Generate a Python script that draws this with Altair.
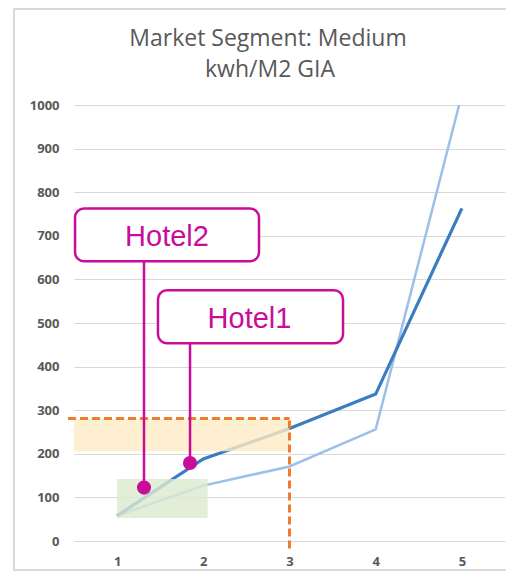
import altair as alt
import pandas as pd

# ---- data ----
categories = [1, 2, 3, 4, 5]
series_dark = [58, 188, 258, 337, 763]
series_light = [58, 127, 171, 256, 1025]

# shaded ranges
orange_x = [0.5, 3.0]
orange_y = [206, 281]
green_x = [1.0, 2.05]
green_y = [53, 142]

# dashed reference lines
ref_h_x = [0.43, 3.0]
ref_h_y = 281
ref_v_x = 3.0
ref_v_y = [-17, 281]

# callouts
callout_names = ["Hotel2", "Hotel1"]
callout_box_x0 = [0.512, 1.474]
callout_box_x1 = [2.646, 3.621]
callout_box_y0 = [641.5, 453.4]
callout_box_y1 = [762.6, 575.0]
callout_text_x = [1.579, 2.536]
callout_text_y = [676, 488]
callout_dot_x = [1.312, 1.846]
callout_dot_y = [122.5, 179.0]

title_lines = ["Market Segment: Medium", "kwh/M2 GIA"]

y_ticks = list(range(0, 1001, 100))

DARK = "#3C7DC0"
LIGHT = "#9DC0E8"
MAGENTA = "#C90C9A"
ORANGE = "#ED7D31"
GRAY = "#595959"

lines_df = pd.DataFrame({
    "x": categories * 2,
    "y": series_light + series_dark,
    "s": ["light"] * 5 + ["dark"] * 5,
})
rects_df = pd.DataFrame({
    "x0": [orange_x[0], green_x[0]], "x1": [orange_x[1], green_x[1]],
    "y0": [orange_y[0], green_y[0]], "y1": [orange_y[1], green_y[1]],
    "c": ["orange", "green"],
})
href_df = pd.DataFrame({"x0": [ref_h_x[0]], "x1": [ref_h_x[1]], "y": [ref_h_y]})
vref_df = pd.DataFrame({"x": [ref_v_x], "y0": [ref_v_y[0]], "y1": [ref_v_y[1]]})
call_df = pd.DataFrame({
    "name": callout_names,
    "bx0": callout_box_x0, "bx1": callout_box_x1,
    "by0": callout_box_y0, "by1": callout_box_y1,
    "tx": callout_text_x, "ty": callout_text_y,
    "dx": callout_dot_x, "dy": callout_dot_y,
})
title1_df = pd.DataFrame({"t": [title_lines[0]]})
title2_df = pd.DataFrame({"t": [title_lines[1]]})

xscale = alt.Scale(domain=[0.5, 5.5], nice=False, zero=False)
yscale = alt.Scale(domain=[0, 1000], nice=False)

x_axis = alt.Axis(values=categories, format="d", grid=False, domain=False, ticks=False,
                  labelPadding=14, labelFontSize=13, labelFontWeight="bold", labelColor=GRAY,
                  labelFont="Open Sans", title=None)
y_axis = alt.Axis(values=y_ticks, format="d", grid=True, gridColor="#D9D9D9", gridWidth=1.2,
                  domain=False, ticks=False, labelPadding=15, labelFontSize=13,
                  labelFontWeight="bold", labelColor=GRAY, labelFont="Open Sans", title=None)

lines = alt.Chart(lines_df).mark_line(clip=True).encode(
    x=alt.X("x:Q", scale=xscale, axis=x_axis),
    y=alt.Y("y:Q", scale=yscale, axis=y_axis),
    detail="s:N",
    color=alt.Color("s:N", scale=alt.Scale(domain=["light", "dark"], range=[LIGHT, DARK]), legend=None),
    strokeWidth=alt.StrokeWidth("s:N", scale=alt.Scale(domain=["light", "dark"], range=[2.5, 3.2]), legend=None),
)

rects = alt.Chart(rects_df).mark_rect(opacity=0.8).encode(
    x="x0:Q", x2="x1", y="y0:Q", y2="y1",
    fill=alt.Fill("c:N", scale=alt.Scale(domain=["orange", "green"], range=["#FCEBC4", "#DCEAD0"]), legend=None),
)

href = alt.Chart(href_df).mark_rule(color=ORANGE, strokeWidth=3, strokeDash=[8, 4]).encode(
    x="x0:Q", x2="x1", y="y:Q")
vref = alt.Chart(vref_df).mark_rule(color=ORANGE, strokeWidth=3, strokeDash=[8, 4]).encode(
    x="x:Q", y="y0:Q", y2="y1")

boxes = alt.Chart(call_df).mark_rect(fill="white", stroke=MAGENTA, strokeWidth=2.5, cornerRadius=9).encode(
    x="bx0:Q", x2="bx1", y="by0:Q", y2="by1")
leaders = alt.Chart(call_df).mark_rule(color=MAGENTA, strokeWidth=2.5).encode(
    x="dx:Q", y="dy:Q", y2="by0")
dots = alt.Chart(call_df).mark_circle(color=MAGENTA, opacity=1, size=200).encode(
    x="dx:Q", y="dy:Q")
labels = alt.Chart(call_df).mark_text(color=MAGENTA, fontSize=29, font="Liberation Sans",
                                      baseline="alphabetic", align="center").encode(
    x="tx:Q", y="ty:Q", text="name:N")

# chart title (two lines)
title1 = alt.Chart(title1_df).mark_text(fontSize=23, font="Open Sans", color=GRAY,
                                        baseline="alphabetic", align="center").encode(
    x=alt.value(194), y=alt.value(-59), text="t:N")
title2 = alt.Chart(title2_df).mark_text(fontSize=23, font="Open Sans", color=GRAY,
                                        baseline="alphabetic", align="center").encode(
    x=alt.value(196), y=alt.value(-28), text="t:N")

# chart frame (decoration): open rectangle whose right edge lies beyond the page
frame = alt.Chart(title1_df).mark_rect(fill="transparent", stroke="#D9D9D9", strokeWidth=2).encode(
    x=alt.value(-60), x2=alt.value(470), y=alt.value(-96), y2=alt.value(465))

chart = alt.layer(
    frame,
    lines, rects, href, vref, boxes, leaders, dots, labels, title1, title2,
).properties(
    width=431, height=436,
    autosize=alt.AutoSizeParams(type="none"),
    padding={"left": 66, "top": 97, "right": 1, "bottom": 30},
).configure_view(stroke=None)

chart.save("out.html", embed_options={"renderer": "svg", "actions": False})
